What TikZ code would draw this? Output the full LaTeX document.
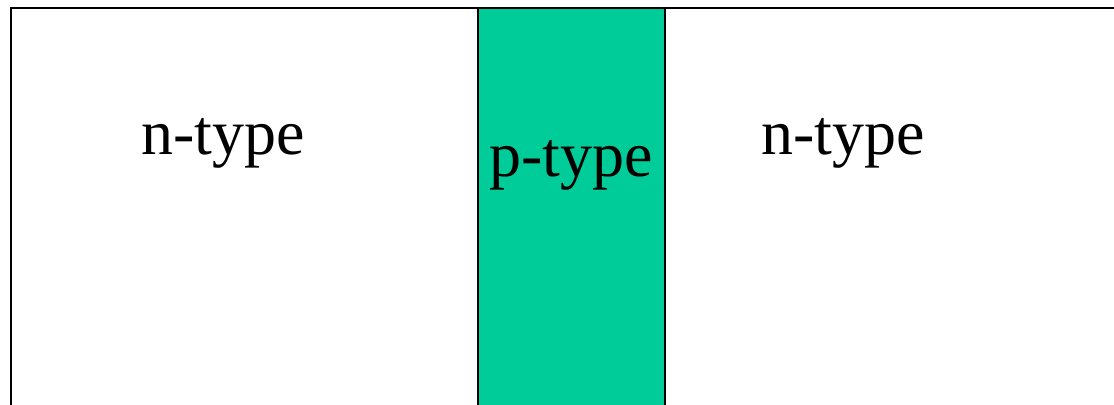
\documentclass[tikz,border=0pt]{standalone}
\usepackage{fontspec}
\setmainfont{Liberation Serif}
\usepackage{tikz}
\usetikzlibrary{positioning}
\definecolor{ink}{HTML}{000000}
\definecolor{pfill}{HTML}{00CC99}

\begin{document}
\begin{tikzpicture}[x=0.5pt, y=-0.5pt,
  frame/.style={draw=ink, line width=1.25pt},
  region/.style={draw=ink, line width=0.6pt, fill=pfill},
  lbl/.style={anchor=base, text=ink, inner sep=0pt, font=\fontsize{32}{38}\selectfont}]
\useasboundingbox (0,0) rectangle (1114,404);
\clip (0,0) rectangle (1114,404);
% ---------------- device body
\draw[frame] (11,8) rectangle (1140,430);
\draw[region] (478,8) rectangle (665,430);
\draw[frame] (11,8) -- (1140,8);
% ---------------- labels
\node[lbl] (nleft) at (223,154) {n-type};
\node[lbl] (pmid) at (571,176) {p-type};
\node[lbl] (nright) at (843,154) {n-type};
\end{tikzpicture}
\end{document}
